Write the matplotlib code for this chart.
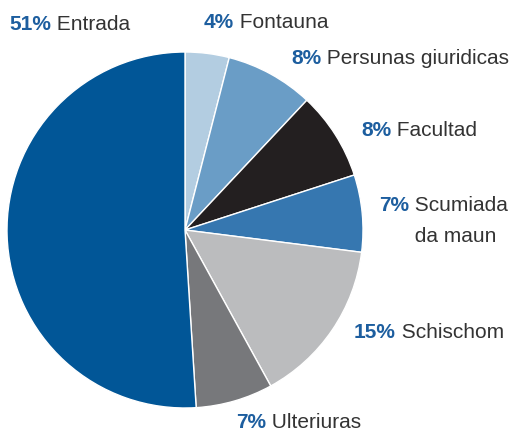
import matplotlib
matplotlib.use("Agg")
import matplotlib.pyplot as plt
from matplotlib.offsetbox import TextArea, HPacker, VPacker, AnnotationBbox

labels = ["Fontauna", "Persunas giuridicas", "Facultad", "Scumiada\nda maun",
          "Schischom", "Ulteriuras", "Entrada"]
values = [4, 8, 8, 7, 15, 7, 51]
colors = ["#b3cde1", "#6a9dc6", "#231f20", "#3677b0", "#bbbcbe", "#77787b", "#015697"]

# label anchor positions in pixel coords (left edge, vertical centre of first line)
label_pos = [(204, 22), (291, 58), (361, 130), (379, 206), (354, 332), (236, 422), (9, 25)]

W, H = 514, 432
fig = plt.figure(figsize=(W / 100, H / 100), dpi=100)
ax = fig.add_axes([0, 0, 1, 1])

cx, cy, r = 185, H - 230, 178
ax.pie(values, colors=colors, startangle=90, counterclock=False,
       center=(cx, cy), radius=r, frame=True,
       wedgeprops=dict(edgecolor="white", linewidth=1.0))
ax.set_xlim(0, W)
ax.set_ylim(0, H)
ax.set_aspect("equal")
ax.axis("off")

fs = 15
pct_props = dict(fontsize=fs, fontweight="bold", color="#1d5e9f", family="Liberation Sans")
name_props = dict(fontsize=fs, color="#333333", family="Liberation Sans")

for lab, val, (lx, ly) in zip(labels, values, label_pos):
    pct = TextArea(f"{val}%", textprops=pct_props)
    lines = lab.split("\n")
    if len(lines) == 1:
        name = TextArea(" " + lines[0], textprops=name_props)
        box = HPacker(children=[pct, name], align="baseline", pad=0, sep=0)
        align = (0, 0.5)
    else:
        name = VPacker(children=[TextArea(" " + ln, textprops=name_props) for ln in lines],
                       align="left", pad=0, sep=9)
        box = HPacker(children=[pct, name], align="top", pad=0, sep=0)
        align = (0, 1)
        ly = ly - 10
    ab = AnnotationBbox(box, (lx, H - ly), xycoords="data", box_alignment=align,
                        frameon=False, pad=0)
    ax.add_artist(ab)

fig.savefig("out.png", dpi=100)
